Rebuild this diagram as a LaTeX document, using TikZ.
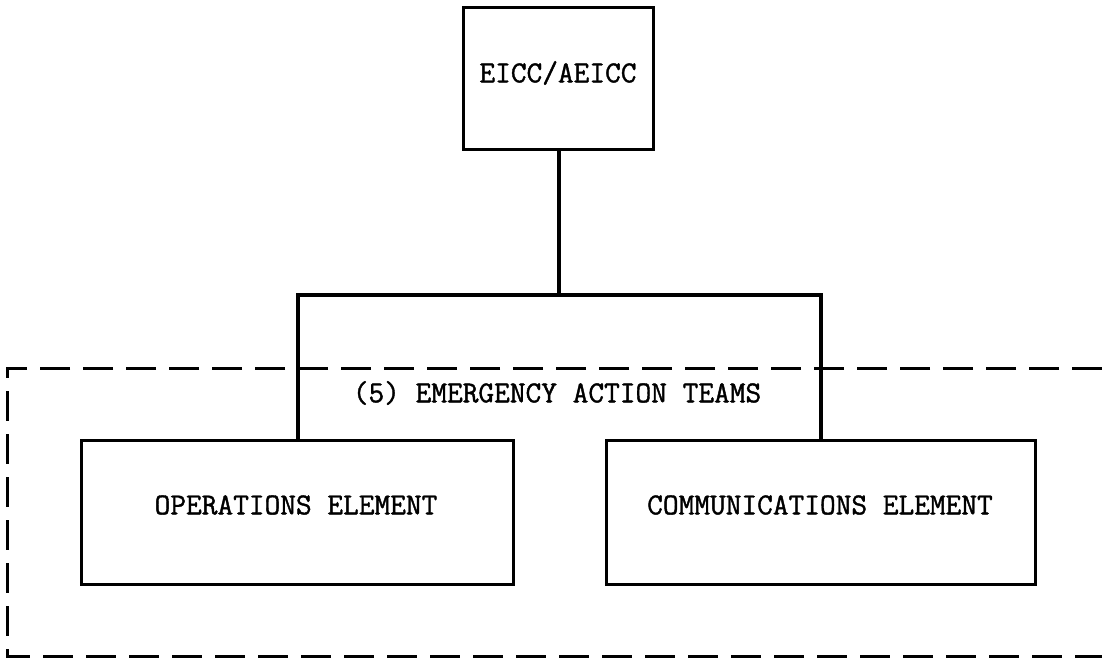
\documentclass[tikz,border=0pt]{standalone}
\usepackage{fontspec}
\newfontfamily\tw{Latin Modern Mono}[FakeBold=1.3]
\usetikzlibrary{calc}
\begin{document}
\begin{tikzpicture}[x=1pt,y=-1pt,
  box/.style={draw=black,line width=3.2pt,inner sep=0pt,anchor=north west},
  lbl/.style={font=\fontsize{30.5}{33}\selectfont\tw},
  conn/.style={draw=black,line width=4pt,line cap=rect},
  teamline/.style={draw=black,line width=3pt,dash pattern=on 30pt off 13pt}]
\useasboundingbox (0,0) rectangle (1102,658);
\fill[white] (0,0) rectangle (1102,658);
% boxes
\node[box,minimum width=190pt,minimum height=142pt] (top) at (462,6) {};
\node[lbl] (toplbl) at (558,73) {EICC/AEICC};
\node[box,minimum width=432pt,minimum height=144pt] (ops) at (80,439) {};
\node[lbl] (opslbl) at (296,505) {OPERATIONS ELEMENT};
\node[box,minimum width=429pt,minimum height=144pt] (comm) at (605,439) {};
\node[lbl] (commlbl) at (820,505) {COMMUNICATIONS ELEMENT};
% dashed team enclosure
\coordinate (tr) at (1102,368);
\coordinate (tl) at (7,368);
\coordinate (bl) at (7,656);
\coordinate (br) at (1102,656);
\draw[teamline] (tr) -- (tl) -- (bl) -- (br);
\node[lbl] (teams) at (557,393) {(5) EMERGENCY ACTION TEAMS};
% connectors
\coordinate (jn) at (559,295);
\draw[conn] (top.south -| jn) -- (jn);
\draw[conn] (ops.north) |- (jn) -| (comm.north);
\end{tikzpicture}
\end{document}
